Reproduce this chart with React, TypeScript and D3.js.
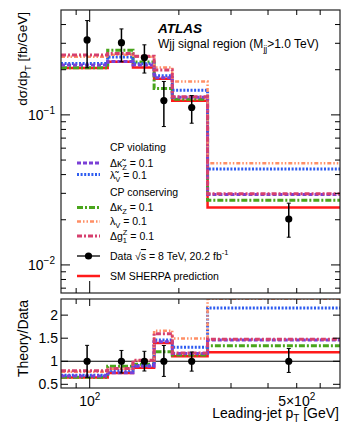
import React from "react";
import * as d3 from "d3";

// ---------- data ----------
const binEdges = [80, 115, 140, 165, 190, 250, 700];
const dataValues = [0.316, 0.303, 0.241, 0.1245, 0.112, 0.0202];
const dataUp = [0.425, 0.374, 0.293, 0.167, 0.1345, 0.0258];
const dataDown = [0.206, 0.226, 0.19, 0.0836, 0.088, 0.0153];

const smSherpa = [0.205, 0.226, 0.207, 0.174, 0.124, 0.0241];
const dKappaTildeZ = [0.215, 0.227, 0.215, 0.177, 0.131, 0.0295];
const lambdaTildeV = [0.220, 0.243, 0.219, 0.182, 0.146, 0.0435];
const dKappaZ = [0.206, 0.270, 0.225, 0.150, 0.127, 0.027];
const lambdaV = [0.244, 0.252, 0.244, 0.207, 0.167, 0.0476];
const dG1Z = [0.251, 0.256, 0.246, 0.199, 0.132, 0.0298];

const xMajorTicks = [100];
const xMinorTicks = [90, 200, 300, 400, 500, 600];
const ratioTicks = [0.5, 1, 1.5, 2];

type Series = { key: string; values: number[]; color: string; dash: string; width: number };
const series: Series[] = [
  { key: "sm", values: smSherpa, color: "#ff1a1a", dash: "none", width: 2.5 },
  { key: "dkz", values: dKappaZ, color: "#4aa51c", dash: "6 2 2 2", width: 3 },
  { key: "ltv", values: lambdaTildeV, color: "#2e5cf0", dash: "2 1.6", width: 3 },
  { key: "dktz", values: dKappaTildeZ, color: "#7a3fd6", dash: "4 2", width: 3 },
  { key: "lv", values: lambdaV, color: "#ff8f66", dash: "4 2 1.5 2 1.5 2", width: 2.5 },
  { key: "dg1z", values: dG1Z, color: "#d6406e", dash: "5 2 2 2", width: 3 },
];

// ---------- layout ----------
const W = 349, H = 431;
const L = 61, R = 340;
const mTop = 10, mBot = 293;
const rTop = 299, rBot = 388;
const FONT = "'Liberation Sans', Arial, Helvetica, sans-serif";

export default function App() {
  const x = d3.scaleLog().domain([80, 700]).range([L, R]);
  const y = d3.scaleLog().domain([0.0065, 0.5]).range([mBot, mTop]);
  const yr = d3.scaleLinear().domain([0.42, 2.35]).range([rBot, rTop]);

  const stepPts = (vals: number[]) => {
    const pts: [number, number][] = vals.map((v, i) => [binEdges[i], v]);
    pts.push([binEdges[binEdges.length - 1], vals[vals.length - 1]]);
    return pts;
  };
  const lineMain = d3.line<[number, number]>().x(d => x(d[0])).y(d => y(d[1])).curve(d3.curveStepAfter);
  const lineRatio = d3.line<[number, number]>().x(d => x(d[0])).y(d => yr(d[1])).curve(d3.curveStepAfter);

  const centers = [98, 128, 153, 178, 221, 470];

  const yMinor: number[] = [];
  [0.001, 0.01, 0.1].forEach(dec => {
    for (let k = 2; k <= 9; k++) {
      const v = dec * k;
      if (v > 0.0065 && v < 0.5) yMinor.push(v);
    }
  });
  const yMajor = [0.01, 0.1];

  const legendX1 = 77, legendX2 = 100, legendTX = 110;
  const legendLine = (yy: number, s: Series) => (
    <line x1={legendX1} x2={legendX2} y1={yy} y2={yy} stroke={s.color} strokeWidth={s.width}
      strokeDasharray={s.dash === "none" ? undefined : s.dash} />
  );
  const byKey = (k: string) => series.find(s => s.key === k)!;

  const tickLen = 9, minorLen = 5;

  return (
    <svg width={W} height={H} style={{ display: "block", position: "absolute", left: 0, top: 0 }} fontFamily={FONT}>
      <defs>
        <clipPath id="clipMain"><rect x={L} y={mTop} width={R - L} height={mBot - mTop} /></clipPath>
        <clipPath id="clipRatio"><rect x={L} y={rTop} width={R - L} height={rBot - rTop} /></clipPath>
      </defs>
      <rect width={W} height={H} fill="#fff" />

      {/* ---------- main panel ---------- */}
      <g clipPath="url(#clipMain)">
        {series.map(s => (
          <path key={s.key} d={lineMain(stepPts(s.values)) || ""} fill="none" stroke={s.color}
            strokeWidth={s.width} strokeDasharray={s.dash === "none" ? undefined : s.dash} />
        ))}
        {dataValues.map((v, i) => (
          <g key={i}>
            <line x1={x(centers[i])} x2={x(centers[i])} y1={y(dataUp[i])} y2={y(dataDown[i])} stroke="#000" strokeWidth={1.5} />
            <line x1={x(centers[i]) - 2} x2={x(centers[i]) + 2} y1={y(dataUp[i])} y2={y(dataUp[i])} stroke="#000" strokeWidth={1} />
            <line x1={x(centers[i]) - 2} x2={x(centers[i]) + 2} y1={y(dataDown[i])} y2={y(dataDown[i])} stroke="#000" strokeWidth={1} />
            <circle cx={x(centers[i])} cy={y(v)} r={3.6} fill="#000" />
          </g>
        ))}
      </g>
      <rect x={L} y={mTop} width={R - L} height={mBot - mTop} fill="none" stroke="#222" strokeWidth={1.2} />
      {xMajorTicks.map(t => (
        <g key={"xM" + t}>
          <line x1={x(t)} x2={x(t)} y1={mBot} y2={mBot - tickLen - 3} stroke="#000" />
          <line x1={x(t)} x2={x(t)} y1={mTop} y2={mTop + tickLen + 3} stroke="#000" />
        </g>
      ))}
      {xMinorTicks.map(t => (
        <g key={"xm" + t}>
          <line x1={x(t)} x2={x(t)} y1={mBot} y2={mBot - minorLen} stroke="#000" />
          <line x1={x(t)} x2={x(t)} y1={mTop} y2={mTop + minorLen} stroke="#000" />
        </g>
      ))}
      {yMajor.map(t => (
        <g key={"yM" + t}>
          <line x1={L} x2={L + 9} y1={y(t)} y2={y(t)} stroke="#000" />
          <line x1={R} x2={R - 9} y1={y(t)} y2={y(t)} stroke="#000" />
        </g>
      ))}
      {yMinor.map(t => (
        <g key={"ym" + t}>
          <line x1={L} x2={L + 5} y1={y(t)} y2={y(t)} stroke="#000" />
          <line x1={R} x2={R - 5} y1={y(t)} y2={y(t)} stroke="#000" />
        </g>
      ))}
      {yMajor.map(t => (
        <text key={"yl" + t} x={55} y={y(t) + 5} fontSize={14} textAnchor="end" fill="#000">
          10<tspan dy={-6} fontSize={10}>{"\u2212" + (t === 0.1 ? "1" : "2")}</tspan>
        </text>
      ))}
      <text transform={`translate(27,12) rotate(-90)`} textAnchor="end" fontSize={13.5} fill="#000">
        dσ/dp<tspan dy={4} fontSize={9.5}>T</tspan><tspan dy={-4}> [fb/GeV]</tspan>
      </text>

      <text x={158} y={33} fontSize={13.5} fontWeight="bold" fontStyle="italic" fill="#000">ATLAS</text>
      <text x={158} y={48} fontSize={12} fill="#000">
        Wjj signal region (M<tspan dy={4} fontSize={8.5}>jj</tspan><tspan dy={-4}>&gt;1.0 TeV)</tspan>
      </text>

      {/* legend */}
      <g fontSize={10.5} fill="#000">
        <text x={legendTX} y={151}>CP violating</text>
        {legendLine(163, byKey("dktz"))}
        <text x={legendTX} y={166.5}>Δκ̃<tspan dy={3} fontSize={7.5}>Z</tspan><tspan dy={-3}> = 0.1</tspan></text>
        {legendLine(174.5, byKey("ltv"))}
        <text x={legendTX} y={178.5}>λ̃<tspan dy={3} fontSize={7.5}>V</tspan><tspan dy={-3}>  = 0.1</tspan></text>
        <text x={legendTX} y={196}>CP conserving</text>
        {legendLine(207.5, byKey("dkz"))}
        <text x={legendTX} y={211}>Δκ<tspan dy={3} fontSize={7.5}>Z</tspan><tspan dy={-3}> = 0.1</tspan></text>
        {legendLine(221.5, byKey("lv"))}
        <text x={legendTX} y={225}>λ<tspan dy={3} fontSize={7.5}>V</tspan><tspan dy={-3}>   = 0.1</tspan></text>
        {legendLine(236, byKey("dg1z"))}
        <text x={legendTX} y={239.5}>Δg<tspan dy={3} fontSize={7.5}>1</tspan><tspan dx={-4.2} dy={-8} fontSize={7.5}>Z</tspan><tspan dy={5}> = 0.1</tspan></text>
        <line x1={legendX1} x2={legendX2} y1={256} y2={256} stroke="#000" strokeWidth={1.3} />
        <circle cx={88.5} cy={256} r={3.6} fill="#000" />
        <text x={legendTX} y={260}>Data √<tspan textDecoration="overline">s</tspan> = 8 TeV, 20.2 fb<tspan dy={-5} fontSize={7.5}>-1</tspan></text>
        <line x1={legendX1} x2={legendX2} y1={276} y2={276} stroke={byKey("sm").color} strokeWidth={2.5} />
        <text x={legendTX} y={280}>SM SHERPA prediction</text>
      </g>

      {/* ---------- ratio panel ---------- */}
      <g clipPath="url(#clipRatio)">
        <line x1={L} x2={R} y1={yr(1)} y2={yr(1)} stroke="#000" strokeWidth={1} />
        {series.map(s => (
          <path key={s.key} d={lineRatio(stepPts(s.values.map((v, i) => v / dataValues[i]))) || ""} fill="none"
            stroke={s.color} strokeWidth={s.width} strokeDasharray={s.dash === "none" ? undefined : s.dash} />
        ))}
        {dataValues.map((v, i) => (
          <g key={i}>
            <line x1={x(centers[i])} x2={x(centers[i])} y1={yr(dataUp[i] / v)} y2={yr(dataDown[i] / v)} stroke="#000" strokeWidth={1.5} />
            <line x1={x(centers[i]) - 2} x2={x(centers[i]) + 2} y1={yr(dataUp[i] / v)} y2={yr(dataUp[i] / v)} stroke="#000" strokeWidth={1} />
            <line x1={x(centers[i]) - 2} x2={x(centers[i]) + 2} y1={yr(dataDown[i] / v)} y2={yr(dataDown[i] / v)} stroke="#000" strokeWidth={1} />
            <circle cx={x(centers[i])} cy={yr(1)} r={3.6} fill="#000" />
          </g>
        ))}
      </g>
      <rect x={L} y={rTop} width={R - L} height={rBot - rTop} fill="none" stroke="#222" strokeWidth={1.2} />
      {xMajorTicks.map(t => (
        <g key={"rxM" + t}>
          <line x1={x(t)} x2={x(t)} y1={rBot} y2={rBot - tickLen - 2} stroke="#000" />
          <line x1={x(t)} x2={x(t)} y1={rTop} y2={rTop + tickLen - 2} stroke="#000" />
        </g>
      ))}
      {xMinorTicks.map(t => (
        <g key={"rxm" + t}>
          <line x1={x(t)} x2={x(t)} y1={rBot} y2={rBot - minorLen} stroke="#000" />
          <line x1={x(t)} x2={x(t)} y1={rTop} y2={rTop + minorLen} stroke="#000" />
        </g>
      ))}
      {ratioTicks.map(t => (
        <g key={"ry" + t}>
          <line x1={L} x2={L + 7} y1={yr(t)} y2={yr(t)} stroke="#000" />
          <line x1={R} x2={R - 7} y1={yr(t)} y2={yr(t)} stroke="#000" />
          <text x={58} y={yr(t) + 5} fontSize={14} textAnchor="end" fill="#000">{String(t)}</text>
        </g>
      ))}
      <text x={x(100)} y={406} fontSize={14} textAnchor="middle" fill="#000">
        10<tspan dy={-6} fontSize={10}>2</tspan>
      </text>
      <text x={x(500)} y={406} fontSize={14} textAnchor="middle" fill="#000">
        5×10<tspan dy={-6} fontSize={10}>2</tspan>
      </text>
      <text x={339} y={418} fontSize={14} textAnchor="end" fill="#000">
        Leading-jet p<tspan dy={4} fontSize={10}>T</tspan><tspan dy={-4}> [GeV]</tspan>
      </text>
      <text transform={`translate(28,300) rotate(-90)`} textAnchor="end" fontSize={14} fill="#000">Theory/Data</text>
    </svg>
  );
}
